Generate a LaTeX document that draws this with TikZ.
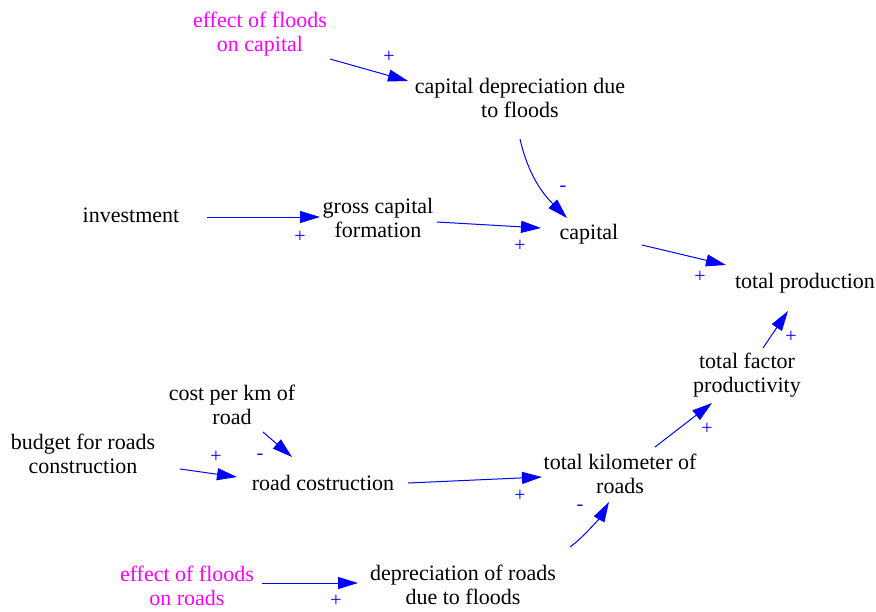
\documentclass[tikz,border=0pt]{standalone}
\usepackage{fontspec}
\setmainfont{Liberation Serif}
\usepackage{xcolor}
\usetikzlibrary{calc,arrows.meta}
\definecolor{linkblue}{HTML}{0000FF}
\definecolor{floodpink}{HTML}{FF00FF}

\begin{document}
\begin{tikzpicture}[x=1pt,y=-1pt,
	var/.style={align=center,inner sep=0pt,font=\fontsize{22}{24}\selectfont},
	flood/.style={var,text=floodpink},
	link/.style={linkblue,line width=1pt,-{Triangle[length=20pt,width=12pt]}},
	polarity/.style={text=linkblue,inner sep=0pt,font=\fontsize{20}{20}\selectfont}]
				\useasboundingbox (0,0) rectangle (876,611);
				
				% capital side
				\node[flood] (effcap) at (260,34) {effect of floods\\on capital};
				\node[var] (capdep) at (520,98) {capital depreciation due\\to floods};
				\node[var] (invest) at (131,215) {investment};
				\node[var] (gross) at (378,218) {gross capital\\formation};
				\node[var] (capital) at (589,234) {capital};
				\node[var] (totprod) at (805,283) {total production};
				\node[var] (tfp) at (747,375) {total factor\\productivity};
				
				% road side
				\node[var] (cost) at (232,405) {cost per km of\\road};
				\node[var] (budget) at (83,454) {budget for roads\\construction};
				\node[var] (roadcon) at (323,483) {road costruction};
				\node[var] (totkm) at (620,474) {total kilometer of\\roads};
				\node[var] (deprroad) at (463,585) {depreciation of roads\\due to floods};
				\node[flood] (effroad) at (187,586) {effect of floods\\on roads};
				
				\draw[link] ($(effcap)+(70,25)$) -- ($(capdep)+(-112,-17)$);
				\draw[link] ($(capdep)+(0,41)$) .. controls ($(capdep)+(8,76)$) and ($(capital)+(-47,-41)$) .. ($(capital)+(-22,-16)$);
				\draw[link] ($(invest)+(76,2)$) -- ($(gross)+(-58,-1)$);
				\draw[link] ($(gross)+(59,4)$) -- ($(capital)+(-48,-6)$);
				\draw[link] ($(capital)+(53,11)$) -- ($(totprod)+(-79,-18)$);
				\draw[link] ($(tfp)+(16,-27)$) -- ($(totprod)+(-17,28)$);
				\draw[link] ($(totkm)+(35,-27)$) -- ($(tfp)+(-35,28)$);
				\draw[link] ($(cost)+(31,27)$) -- ($(roadcon)+(-31,-26)$);
				\draw[link] ($(budget)+(97,15)$) -- ($(roadcon)+(-86,-6)$);
				\draw[link] ($(roadcon)+(85,0)$) -- ($(totkm)+(-78,3)$);
				\draw[link] ($(deprroad)+(107,-38)$) .. controls ($(deprroad)+(121,-48)$) and ($(totkm)+(-19,42)$) .. ($(totkm)+(-11,28)$);
				\draw[link] ($(effroad)+(75,-3)$) -- ($(deprroad)+(-105,-2)$);
				
				\foreach \x/\y/\pol [count=\i] in {389/57/+,563/189/-,300/237/+,520/246/+,700/277/+,791/337/+,707/429/+,260/457/-,216/457/+,520/496/+,580/508/-,336/601/+}{
					\node[polarity] (pol\i) at (\x,\y) {\pol};}
\end{tikzpicture}
\end{document}
